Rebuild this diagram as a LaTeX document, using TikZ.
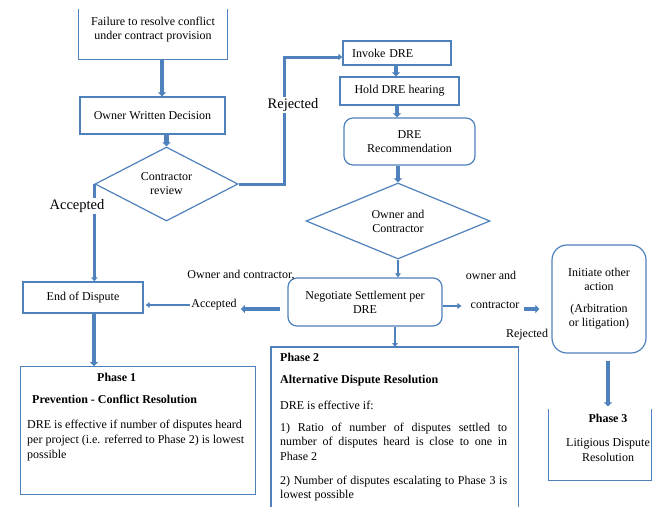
\documentclass[tikz,border=0pt]{standalone}
\usepackage{fontspec}
\setmainfont{Liberation Serif}
\usetikzlibrary{shapes.geometric,arrows.meta,calc}
\definecolor{lb}{RGB}{79,129,189}
\begin{document}
\begin{tikzpicture}[x=1pt,y=-1pt,
  font=\fontsize{12}{14}\selectfont,
  box/.style={draw=lb, line width=1.2pt, inner sep=2pt, align=center},
  rbox/.style={box, rounded corners=9pt},
  dia/.style={diamond, draw=lb, line width=1.2pt, inner sep=0pt, align=center},
  fat/.style={draw=lb, line width=4.5pt, -{Triangle[length=4pt,width=8pt]}},
  mid/.style={draw=lb, line width=3pt, -{Triangle[length=4pt,width=6pt]}},
  thin/.style={draw=lb, line width=1.4pt, -{Triangle[length=4pt,width=5.5pt]}},
  lab/.style={inner sep=1pt, fill=white},
  biglab/.style={lab, font=\fontsize{14.5}{16}\selectfont},
  para/.style={inner sep=0pt, align=left, font=\fontsize{12}{15}\selectfont},
]
\useasboundingbox[fill=white] (0,0) rectangle (653,506);

% Phase 1 column
\node[box, draw=none, minimum width=148, minimum height=59] (fail) at (153,29.5) {Failure to resolve conflict\\under contract provision};
\draw[draw=lb, line width=1.2pt] ($(fail.north west)+(0,10)$) -- (fail.south west) -- (fail.south east) -- ($(fail.north east)+(0,10)$);
\node[box, minimum width=145, minimum height=37] (owd) at (152.5,115.5) {Owner Written Decision};
\node[dia, aspect=1.9, minimum width=143, minimum height=74] (d1) at (166.5,184) {Contractor\\review};
\node[box, minimum width=120, minimum height=31] (endd) at (83,297.5) {End of Dispute};
\node[box, minimum width=235, minimum height=128, anchor=north west] (p1) at (20,366) {};
\node[para, anchor=north west] (p1t) at ([shift={(7,6.5)}]p1.north west)
  {\hspace*{70pt}\textbf{Phase 1}\\[7pt]
   \hspace*{5pt}\textbf{Prevention - Conflict Resolution}\\[10pt]
   DRE is effective if number of disputes heard\\
   per project (i.e. referred to Phase 2) is lowest\\
   possible};

% Phase 2 column
\node[box, minimum width=108, minimum height=24, text width=90, align=left, inner xsep=9pt] (invoke) at (397,53) {Invoke DRE};
\node[box, minimum width=119, minimum height=28] (hold) at (399.5,91) {Hold DRE hearing};
\node[rbox, minimum width=131, minimum height=47] (rec) at (409.5,141.5) {DRE\\Recommendation};
\node[dia, aspect=2.4, minimum width=184, minimum height=76] (d2) at (398,221) {Owner and\\Contractor};
\node[rbox, minimum width=154, minimum height=48] (neg) at (365,302) {Negotiate Settlement per\\DRE};
\node[box, draw=none, minimum width=246, minimum height=165, anchor=north west] (p2) at (271,347) {};
\draw[draw=lb, line width=1.2pt] (p2.south west) -- (p2.north west) -- (p2.north east) -- (p2.south east);
\node[para, anchor=north west] (p2t) at ([shift={(9,5.5)}]p2.north west)
  {\textbf{Phase 2}\\[7pt]
   \textbf{Alternative Dispute Resolution}\\[11pt]
   DRE is effective if:\\[7pt]
   \makebox[227pt][s]{1) Ratio of number of disputes settled to}\\[-1pt]
   \makebox[227pt][s]{number of disputes heard is close to one in}\\
   Phase 2\\[9pt]
   \makebox[227pt][s]{2) Number of disputes escalating to Phase 3 is}\\[-1pt]
   lowest possible};

% Phase 3 column
\node[rbox, rounded corners=15pt, minimum width=94, minimum height=108] (init) at (599,299) {Initiate other\\action\\[8pt](Arbitration\\or litigation)};
\node[box, draw=none, minimum width=102, minimum height=70] (p3) at (600,445) {};
\draw[draw=lb, line width=1.2pt] (p3.north west) -- (p3.south west) -- (p3.south east) -- (p3.north east);
\node[para, align=center, anchor=north] (p3t) at ([shift={(8,5)}]p3.north)
  {\textbf{Phase 3}\\[9pt]Litigious Dispute\\Resolution};

% labels
\node[lab] (acc2) at (214,305) {Accepted};
\node[inner sep=1pt] (oc) at (241,275) {Owner and contractor,};
\node[inner sep=1pt] (ownand) at (491,275) {owner and};
\node[inner sep=1pt] (contr) at (495,305) {contractor};
\node[inner sep=1pt] (rej2) at (527,335) {Rejected};

% connectors
\draw[fat] (fail.south -| 162,0) -- (owd.north -| 162,0);
\draw[fat] (owd.south -| d1.north) -- (d1.north);
\coordinate (rj) at (284,57);
\draw[mid] (d1.east) -| (rj) -- (rj -| invoke.west);
\draw[mid] (d1.west) -- (d1.west |- endd.north);
\node[biglab] (rej1) at (293,105) {Rejected};
\node[biglab] (acc1) at (77,206) {Accepted};

\draw[fat] (invoke.south -| 396,0) -- (hold.north -| 396,0);
\draw[fat] (hold.south -| 397,0) -- (rec.north -| 397,0);
\draw[fat] (rec.south -| d2.north) -- (d2.north);
\draw[thin] (d2.south) -- (d2.south |- neg.north);
\draw[thin] (neg.south -| 395,0) -- (p2.north -| 395,0);

\draw[fat] ($(neg.west)+(-7,7)$) -- ($(acc2.east)+(3,4)$);
\draw[thin, shorten >=2pt] (acc2.west) -- (acc2.west -| endd.east);
\draw[thin, shorten >=8pt] (neg.east |- 0,306) -- (contr.west |- 0,306);
\draw[fat] ($(contr.east)+(3,4)$) -- ($(init.west)+(-12,10)$);
\draw[fat] ($(init.south)+(9,7)$) -- ($(p3.north)+(8,-3)$);
\draw[fat] (endd.south -| 94,0) -- (p1.north -| 94,0);
\end{tikzpicture}
\end{document}
